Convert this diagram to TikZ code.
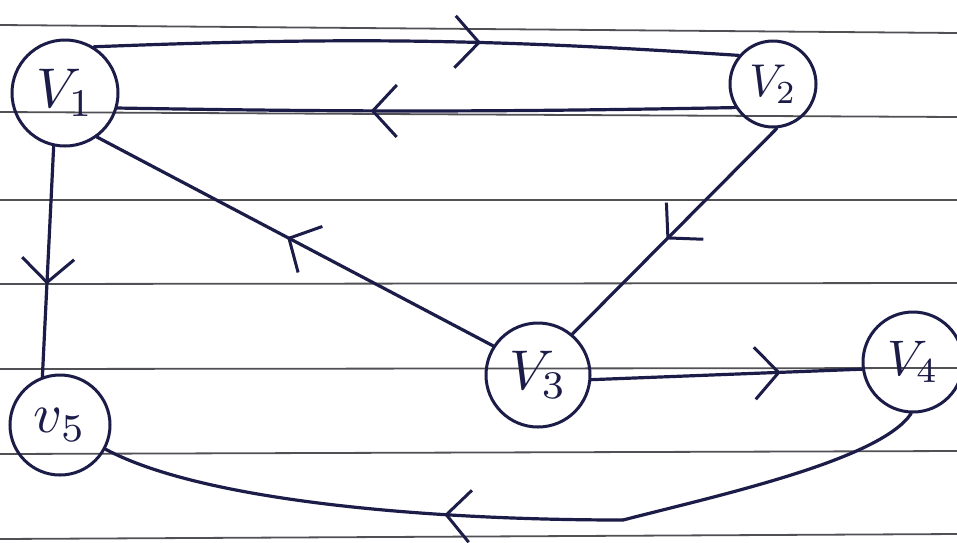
\documentclass[tikz,border=0pt]{standalone}
\usetikzlibrary{arrows.meta,decorations.markings}
\definecolor{ink}{RGB}{28,28,72}
\definecolor{rule}{RGB}{80,80,85}
\newcommand{\vlab}[1]{\scalebox{5.6}{$#1$}}
\tikzset{
  vertex/.style={draw=ink, line width=3pt, circle, inner sep=0pt, text=ink},
  edge/.style={draw=ink, line width=3.2pt, line cap=round},
  midarrow/.style={postaction={decorate}, decoration={markings,
     mark=at position #1 with {\arrow{Straight Barb[length=24pt,width=52pt,line width=3pt]}}}},
  paperline/.style={draw=rule, line width=1.8pt}
}
\begin{document}
\begin{tikzpicture}[x=1pt,y=-1pt]
\useasboundingbox (0,0) rectangle (957,542);
\fill[white] (0,0) rectangle (957,542);
% ruled paper lines
\coordinate (l1a) at (0,25);  \coordinate (l1b) at (957,33);
\coordinate (l2a) at (0,112); \coordinate (l2b) at (957,117);
\coordinate (l3a) at (0,200); \coordinate (l3b) at (957,200);
\coordinate (l4a) at (0,284); \coordinate (l4b) at (957,283);
\coordinate (l5a) at (0,369); \coordinate (l5b) at (957,368);
\coordinate (l6a) at (0,454); \coordinate (l6b) at (957,451);
\coordinate (l7a) at (0,539); \coordinate (l7b) at (957,534);
\foreach \i in {1,...,7} { \draw[paperline] (l\i a) -- (l\i b); }
% vertices
\node[vertex, minimum size=106pt] (v1) at (65,93) {\vlab{V_1}};
\node[vertex, minimum size=86pt] (v2) at (773,84) {\scalebox{4.6}{$V_2$}};
\node[vertex, minimum size=104pt] (v3) at (538,375) {\vlab{V_3}};
\node[vertex, minimum size=100pt] (v4) at (913,362) {\scalebox{5}{$V_4$}};
\node[vertex, minimum size=100pt] (v5) at (60,425) {\vlab{v_5}};
% edges
\draw[edge, midarrow=0.6] (v1.58) to[bend left=3] (v2.140);
\draw[edge, midarrow=0.59] (v2.212) to[bend left=1] (v1.-16);
\draw[edge, midarrow=0.54] (v2.-85) -- (v3.50);
\draw[edge, midarrow=0.52] (v3.147) -- (v1.-54);
\draw[edge, midarrow=0.6] (v1.-102) -- (v5.110);
\draw[edge, midarrow=0.7] (v3.-5) -- (v4.188);
\coordinate (bend) at (623,520);
\draw[edge] (v4.-92) .. controls (880,460) and (720,495) .. (bend);
\draw[edge, midarrow=0.34] (bend) .. controls (420,520) and (200,500) .. (v5.-28);
\end{tikzpicture}
\end{document}
